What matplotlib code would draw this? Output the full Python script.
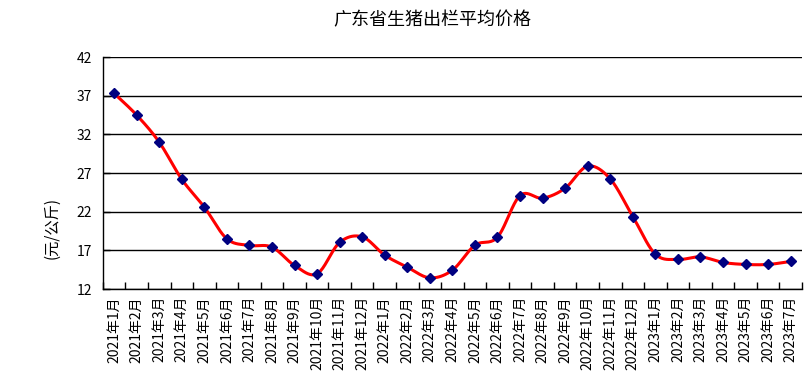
import numpy as np
import matplotlib
matplotlib.use("Agg")
from matplotlib import pyplot as plt

plt.rcParams['font.family'] = ['Noto Sans CJK SC', 'DejaVu Sans']

# 月份标签
months = (["2021年%d月" % m for m in range(1, 13)]
          + ["2022年%d月" % m for m in range(1, 13)]
          + ["2023年%d月" % m for m in range(1, 8)])

# 平均价格 (元/公斤)
prices = [37.3, 34.5, 31.0, 26.2, 22.6, 18.5, 17.65, 17.43, 15.06, 13.98,
          18.04, 18.76, 16.39, 14.84, 13.46, 14.45, 17.68, 18.72, 24.1, 23.76,
          25.05, 27.9, 26.25, 21.39, 16.52, 15.83, 16.17, 15.45, 15.19, 15.19,
          15.58]

y_ticks = [12, 17, 22, 27, 32, 37, 42]


def smooth(x, y, n=20):
    # Excel 风格的平滑线 (Catmull-Rom)
    x = np.asarray(x, float)
    y = np.asarray(y, float)
    px = np.concatenate([[x[0]], x, [x[-1]]])
    py = np.concatenate([[y[0]], y, [y[-1]]])
    xs, ys = [], []
    t = np.linspace(0, 1, n, endpoint=False)
    for i in range(1, len(px) - 2):
        p0, p1, p2, p3 = px[i-1], px[i], px[i+1], px[i+2]
        q0, q1, q2, q3 = py[i-1], py[i], py[i+1], py[i+2]
        c1x, c2x = p1 + (p2 - p0) / 6, p2 - (p3 - p1) / 6
        c1y, c2y = q1 + (q2 - q0) / 6, q2 - (q3 - q1) / 6
        b0, b1, b2, b3 = (1-t)**3, 3*(1-t)**2*t, 3*(1-t)*t**2, t**3
        xs.extend(b0*p1 + b1*c1x + b2*c2x + b3*p2)
        ys.extend(b0*q1 + b1*c1y + b2*c2y + b3*q2)
    xs.append(x[-1])
    ys.append(y[-1])
    return xs, ys


fig = plt.figure(figsize=(8.1, 3.86), dpi=100)
ax = fig.add_axes([0.127, 0.251, 0.863, 0.601])

x = np.arange(len(prices))
sx, sy = smooth(x, prices)
ax.plot(sx, sy, color='#FF0000', linewidth=2.2, zorder=3)
ax.plot(x, prices, linestyle='none', marker='D', markersize=5,
        color='#000080', zorder=4)

ax.set_xlim(-0.5, len(prices) - 0.5)
ax.set_ylim(12, 42)
ax.set_yticks(y_ticks)
ax.set_yticklabels([str(v) for v in y_ticks], fontsize=10)
ax.yaxis.grid(True, color='black', linewidth=1)
ax.set_axisbelow(True)

ax.set_xticks(np.arange(len(prices) + 1) - 0.5)
ax.set_xticklabels([])
ax.set_xticks(x, minor=True)
ax.set_xticklabels(months, minor=True, rotation=90, fontsize=10)
ax.tick_params(axis='x', which='major', direction='in', length=5, width=1)
ax.tick_params(axis='x', which='minor', length=0, pad=5)
ax.tick_params(axis='y', direction='in', length=5, width=1, pad=8)

for s in ['top', 'right']:
    ax.spines[s].set_visible(False)
for s in ['left', 'bottom']:
    ax.spines[s].set_color('black')
    ax.spines[s].set_linewidth(1)

fig.text(432 / 810, 1 - 20 / 386, '广东省生猪出栏平均价格', fontsize=13,
         ha='center', va='center')
fig.text(52 / 810, 1 - 228 / 386, '(元/公斤)', fontsize=11, rotation=90,
         ha='center', va='center')

fig.savefig('out.png', dpi=100)
